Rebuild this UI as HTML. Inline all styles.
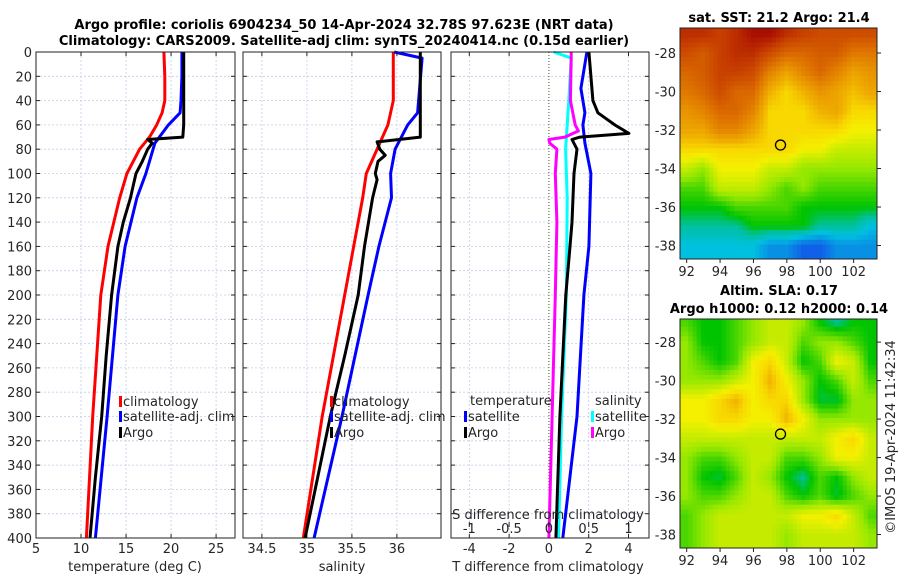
<!DOCTYPE html>
<html><head><meta charset="utf-8">
<style>
body{margin:0;background:#fff;}
svg{display:block;font-family:"DejaVu Sans","Liberation Sans",sans-serif;}
.t{font-size:13px;fill:#262626;}
.b{font-size:13px;font-weight:bold;fill:#000;}
</style></head>
<body>
<svg id="fig" width="900" height="580" viewBox="0 0 900 580" xmlns="http://www.w3.org/2000/svg">
<text class="b" x="344" y="29" text-anchor="middle">Argo profile: coriolis 6904234_50 14-Apr-2024 32.78S 97.623E (NRT data)</text>
<text class="b" x="344" y="45" text-anchor="middle">Climatology: CARS2009. Satellite-adj clim: synTS_20240414.nc (0.15d earlier)</text>
<text class="b" x="779" y="22" text-anchor="middle">sat. SST: 21.2 Argo: 21.4</text>
<text class="b" x="779" y="295" text-anchor="middle">Altim. SLA: 0.17</text>
<text class="b" x="779" y="313" text-anchor="middle">Argo h1000: 0.12 h2000: 0.14</text>
<text class="t" transform="translate(895,437) rotate(-90)" text-anchor="middle">©IMOS 19-Apr-2024 11:42:34</text>
<g id="plots"></g>
</svg>
<script>
// ---- Profile data ----
const depthTicks=[0,20,40,60,80,100,120,140,160,180,200,220,240,260,280,300,320,340,360,380,400];
const tempTicks=[5,10,15,20,25];
const salTicks=[34.5,35,35.5,36];
const tdiffTicks=[-4,-2,0,2,4];
const sdiffTicks=[-1,-0.5,0,0.5,1];
const sdiffTickLabels=["-1","-0.5","0","0.5","1"];
const tClimDepth=[0,20,40,50,60,70,80,100,120,160,200,300,400];
const tClim=[19.2,19.3,19.3,19.0,18.4,17.6,16.5,15.1,14.3,13.0,12.2,11.3,10.6];
const tSatDepth=[0,20,40,50,60,75,100,120,160,200,300,400];
const tSat=[21.2,21.2,21.1,21.0,19.7,18.2,17.2,16.2,14.9,14.1,12.9,11.6];
const tArgoDepth=[0,20,40,60,70,72,75,80,90,100,110,120,140,160,200,250,300,350,400];
const tArgo=[21.4,21.4,21.4,21.4,21.3,17.4,17.9,17.4,16.8,16.1,15.8,15.5,14.7,14.1,13.4,12.8,12.3,11.6,11.0];
const sClimDepth=[0,40,60,75,100,120,160,200,300,400];
const sClim=[35.96,35.96,35.9,35.81,35.66,35.62,35.52,35.42,35.17,34.96];
const sSatDepth=[0,5,50,60,80,100,120,160,200,300,400];
const sSat=[35.97,36.28,36.23,36.12,35.98,35.93,35.94,35.8,35.68,35.39,35.08];
const sArgoDepth=[0,70,74,80,85,90,100,105,120,160,200,250,300,350,400];
const sArgo=[36.26,36.26,35.78,35.81,35.87,35.79,35.76,35.78,35.73,35.64,35.57,35.42,35.26,35.12,34.98];
const dDepthSS=[0,5,40,80,120,200,300,400];
const dSSat=[0.06,0.28,0.25,0.21,0.23,0.22,0.16,0.12];
const dDepthSA=[0,5,40,60,65,70,72,75,80,100,140,200,300,400];
const dSArgo=[0.28,0.28,0.27,0.33,0.37,0.2,0.0,0.01,0.10,0.08,0.10,0.08,0.04,0.0];
const dDepthTS=[0,20,30,50,60,75,100,160,200,300,400];
const dTSat=[1.91,1.71,1.61,1.81,1.71,1.81,2.11,2.01,1.76,1.41,0.70];
const dDepthTA=[0,20,40,50,60,67,70,72,80,100,140,160,200,300,400];
const dTArgo=[2.01,2.11,2.21,2.46,3.31,4.02,1.56,1.16,1.41,1.26,1.16,1.06,0.85,0.55,0.35];
// ---- Map data (rows lat -27..-38, cols lon 92..103), colour index 0..10 ----
const mapLats=[-27,-28,-29,-30,-31,-32,-33,-34,-35,-36,-37,-38];
const mapLons=[92,93,94,95,96,97,98,99,100,101,102,103];
const sstGrid=[
[9.3,9.3,9,9.3,9.8,9.8,9.3,9,8.8,8.8,8.8,8.8],
[8.8,8.5,9,9.3,9.3,8.8,8.3,8.3,8.5,8.5,8,8],
[8.3,8.5,9,9,8.8,7.8,7.2,7.8,8.3,7.8,7.2,7.5],
[8,8.3,8.8,8.3,8.3,7,6.5,7,7.5,7.2,6.8,7.2],
[7.5,7.8,8.3,8.3,7.8,6.5,6.5,6.5,7,7.2,6.5,6.5],
[7.2,7.2,7.8,7.8,7.2,6.5,6.5,6.5,6.5,6.5,6,6],
[6.5,6.5,6.5,6.5,6.5,6.5,6.5,6,6,5.5,5.5,5.5],
[5.5,5,6,6,6,5.5,5.5,5,5,5,5,5],
[4.5,4.5,5.5,5.5,5.5,5,4.5,5,4.5,4.5,4.5,4.5],
[4,4,4,4.5,4.5,4.5,4.5,4,4,4,4,4],
[3.5,3.5,3.5,3.5,4,4,4,4,3.5,3.5,3.5,3],
[3,3,3,3,3,2.5,2.5,2,2,2.5,2.5,2.5]];
const slaGrid=[
[4.5,4,4,4.5,5,5.5,5.5,5,4,3.5,4,4],
[5,4,4,4.5,5,5.5,5.5,4.5,5,5,4.5,4],
[5,4.5,4,4.5,6,6.5,5.5,4,4.5,6,5.5,4],
[5,5,5,5.5,6,7,6,5,4,4.5,5.5,4.5],
[6,6,6.5,7,6,6.5,6.5,5,3.8,3.8,5,5],
[6,6,6.5,6.5,6,6,7,6,5,5,5,5],
[5.5,5.5,5.5,5.5,5.5,5.5,5.5,5.5,5.5,6,6.5,5.5],
[5,4.5,4.5,5,5.5,5.5,4.5,4.5,5,6,6,5.5],
[5,4,3.8,4.5,5.5,5,4,3.5,4.5,4,5,5.5],
[5,4.5,4.5,5,5.5,5.5,4.5,4,4.5,3.8,4.5,5],
[4.5,5,5.5,5.5,5.5,5.5,5.5,6,6,6.5,5.5,4.5],
[4.5,5,5.5,5.5,5.5,5.5,5,5.5,5.5,5.5,5.5,5]];
const lonTicks=[92,94,96,98,100,102];
const latTicks=[-28,-30,-32,-34,-36,-38];
const argoLon=97.62, argoLat=-32.78;

const NS="http://www.w3.org/2000/svg";
const root=document.getElementById('plots');
function mk(tag,attrs,parent){const e=document.createElementNS(NS,tag);for(const k in attrs)e.setAttribute(k,attrs[k]);(parent||root).appendChild(e);return e;}
function txt(s,x,y,anchor,cls,parent){const e=mk('text',{x:x,y:y,'text-anchor':anchor||'middle','class':cls||'t'},parent);e.textContent=s;return e;}

const Y0=52,Y1=538;
const yD=d=>Y0+(d/400)*(Y1-Y0);
function panel(name,x0,x1,xmin,xmax){
  const xs=v=>x0+(v-xmin)/(xmax-xmin)*(x1-x0);
  const g=mk('g',{});
  
  
  return {g,xs,x0,x1};
}
function grid(p,xt){
  depthTicks.forEach(d=>{const l=mk('line',{x1:p.x0,x2:p.x1,y1:yD(d),y2:yD(d),stroke:'#c4cbea','stroke-width':0.8,'stroke-dasharray':'2,2'},p.g);
    
    mk('line',{x1:p.x0,x2:p.x0+4,y1:yD(d),y2:yD(d),stroke:'#222'},p.g);mk('line',{x1:p.x1-4,x2:p.x1,y1:yD(d),y2:yD(d),stroke:'#222'},p.g);});
  xt.forEach(v=>{const x=p.xs(v);const l=mk('line',{x1:x,x2:x,y1:Y0,y2:Y1,stroke:'#c4cbea','stroke-width':0.8,'stroke-dasharray':'2,2'},p.g);
    
    mk('line',{x1:x,x2:x,y1:Y1,y2:Y1-4,stroke:'#222'},p.g);mk('line',{x1:x,x2:x,y1:Y0,y2:Y0+4,stroke:'#222'},p.g);});
}
function frame(p){const r=mk('rect',{x:p.x0,y:Y0,width:p.x1-p.x0,height:Y1-Y0,fill:'none',stroke:'#222','stroke-width':1},p.g);
  }
function line(p,vals,depths,color,name){
  const pts=vals.map((v,i)=>p.xs(v).toFixed(1)+','+yD(depths[i]).toFixed(1)).join(' ');
  const pl=mk('polyline',{points:pts,fill:'none',stroke:color,'stroke-width':3,'stroke-linejoin':'round'},p.g);
  
  
}
function legendItem(g,x,y,color,label,name){
  const r=mk('rect',{x:x,y:y-10,width:3,height:11,fill:color},g);
  
  const t=txt(label,x+4,y,'start','t',g);
  
}

// Panel 1: temperature
const p1=panel('temperature-panel',36,235,5,27.1);
grid(p1,tempTicks);
line(p1,tClim,tClimDepth,'#f00','climatology-temp-line');
line(p1,tSat,tSatDepth,'#00f','satellite-temp-line');
line(p1,tArgo,tArgoDepth,'#000','argo-temp-line');
frame(p1);
depthTicks.forEach(d=>{const t=txt(String(d),32,yD(d)+5,'end','t',p1.g);});
tempTicks.forEach(v=>{const t=txt(String(v),p1.xs(v),553,'middle','t',p1.g);});
let at=txt('temperature (deg C)',135,571,'middle','t',p1.g);
legendItem(p1.g,119,406,'#f00','climatology','legend-climatology');
legendItem(p1.g,119,421,'#00f','satellite-adj. clim','legend-satellite-adj');
legendItem(p1.g,119,437,'#000','Argo','legend-argo');

// Panel 2: salinity
const p2=panel('salinity-panel',243,441,34.29,36.49);
grid(p2,salTicks);
line(p2,sClim,sClimDepth,'#f00','climatology-salinity-line');
line(p2,sSat,sSatDepth,'#00f','satellite-salinity-line');
line(p2,sArgo,sArgoDepth,'#000','argo-salinity-line');
frame(p2);
salTicks.forEach(v=>{const t=txt(String(v),p2.xs(v),553,'middle','t',p2.g);});
at=txt('salinity',342,571,'middle','t',p2.g);
legendItem(p2.g,330,406,'#f00','climatology','legend-climatology-2');
legendItem(p2.g,330,421,'#00f','satellite-adj. clim','legend-satellite-adj-2');
legendItem(p2.g,330,437,'#000','Argo','legend-argo-2');

// Panel 3: differences
const p3=panel('difference-panel',451,649,-4.92,5.03);
grid(p3,tdiffTicks.filter(v=>v!==0));
const zl=mk('line',{x1:p3.xs(0),x2:p3.xs(0),y1:Y0,y2:Y1,stroke:'#3a5a20','stroke-width':1,'stroke-dasharray':'1,2'},p3.g);

function line3(vals,depths,color,name,scale){
  const pts=vals.map((v,i)=>p3.xs(v*scale).toFixed(1)+','+yD(depths[i]).toFixed(1)).join(' ');
  const pl=mk('polyline',{points:pts,fill:'none',stroke:color,'stroke-width':3,'stroke-linejoin':'round'},p3.g);
  
  
}
line3(dSSat,dDepthSS,'#00ffff','satellite-sdiff-line',4);
line3(dTSat,dDepthTS,'#00f','satellite-tdiff-line',1);
line3(dTArgo,dDepthTA,'#000','argo-tdiff-line',1);
line3(dSArgo,dDepthSA,'#ff00ff','argo-sdiff-line',4);
frame(p3);
tdiffTicks.forEach(v=>{const t=txt(String(v),p3.xs(v),553,'middle','t',p3.g);});
sdiffTicks.forEach((v,i)=>{const t=txt(sdiffTickLabels[i],p3.xs(v*4),533,'middle','t',p3.g);
  mk('line',{x1:p3.xs(v*4),x2:p3.xs(v*4),y1:Y1-16,y2:Y1-11,stroke:'#222'},p3.g);});
at=txt('S difference from climatology',548,519,'middle','t',p3.g);
at=txt('T difference from climatology',548,571,'middle','t',p3.g);
at=txt('temperature',470,405,'start','t',p3.g);
at=txt('salinity',595,405,'start','t',p3.g);
legendItem(p3.g,464,421,'#00f','satellite','legend-t-satellite');
legendItem(p3.g,464,437,'#000','Argo','legend-t-argo');
legendItem(p3.g,591,421,'#00ffff','satellite','legend-s-satellite');
legendItem(p3.g,591,437,'#ff00ff','Argo','legend-s-argo');

// ---- Maps ----
const cstops=[[2,[16,96,232]],[3,[0,192,224]],[3.5,[0,192,160]],[4,[0,196,0]],[5,[150,232,0]],[6,[244,240,0]],[6.5,[248,216,0]],[7,[240,176,0]],[8,[224,120,0]],[9,[200,64,0]],[10,[160,0,0]]];
function cmap(v){
  if(v<=cstops[0][0])return 'rgb('+cstops[0][1]+')';
  for(let i=1;i<cstops.length;i++){if(v<=cstops[i][0]){const a=cstops[i-1],b=cstops[i];const f=(v-a[0])/(b[0]-a[0]);
    return 'rgb('+a[1].map((c,k)=>Math.round(c+(b[1][k]-c)*f)).join(',')+')';}}
  return 'rgb('+cstops[cstops.length-1][1]+')';
}
function drawMap(name,grid,x0,x1,y0,y1,latTop,latBot){
  const lonL=91.6,lonR=103.4;
  const xs=l=>x0+(l-lonL)/(lonR-lonL)*(x1-x0);
  const ys=la=>y0+(latTop-la)/(latTop-latBot)*(y1-y0);
  const g=mk('g',{});
  
  
  const sub=4,R=mapLats.length,C=mapLons.length;
  function val(r,c){r=Math.max(0,Math.min(R-1,r));c=Math.max(0,Math.min(C-1,c));const r0=Math.floor(r),c0=Math.floor(c),r1=Math.min(R-1,r0+1),c1=Math.min(C-1,c0+1),fr=r-r0,fc=c-c0;
    return grid[r0][c0]*(1-fr)*(1-fc)+grid[r0][c1]*(1-fr)*fc+grid[r1][c0]*fr*(1-fc)+grid[r1][c1]*fr*fc;}
  for(let i=0;i<R*sub;i++)for(let j=0;j<C*sub;j++){
    const la=mapLats[0]+0.3-(i+0.5)/sub, lo=mapLons[0]-0.4+(j+0.5)/sub;
    const rr=(mapLats[0]-la), cc=(lo-mapLons[0]);
    const xa=xs(lo-0.5/sub),xb=xs(lo+0.5/sub),ya=ys(la+0.5/sub),yb=ys(la-0.5/sub);
    if(xb<x0||xa>x1||yb<y0||ya>y1)continue;
    const cx=Math.max(x0,xa),cy=Math.max(y0,ya);
    const c=mk('rect',{x:cx.toFixed(1),y:cy.toFixed(1),width:(Math.min(x1,xb)-cx+0.4).toFixed(1),height:(Math.min(y1,yb)-cy+0.4).toFixed(1),fill:cmap(val(rr,cc))},g);
    
    
  }
  const fr=mk('rect',{x:x0,y:y0,width:x1-x0,height:y1-y0,fill:'none',stroke:'#222','stroke-width':1},g);
  
  lonTicks.forEach(l=>{mk('line',{x1:xs(l),x2:xs(l),y1:y1,y2:y1+4,stroke:'#222'},g);
    const t=txt(String(l),xs(l),y1+17,'middle','t',g);});
  latTicks.forEach(la=>{mk('line',{x1:x1,x2:x1+4,y1:ys(la),y2:ys(la),stroke:'#222'},g);
    const t=txt(String(la),x0-4,ys(la)+5,'end','t',g);});
  const m=mk('circle',{cx:xs(argoLon),cy:ys(argoLat),r:5,fill:'none',stroke:'#000','stroke-width':1.3},g);
  
}
drawMap('sst-map',sstGrid,680,877,28,259,-26.7,-38.7);
drawMap('sla-map',slaGrid,680,877,319,548,-26.8,-38.7);
</script>
</body></html>
